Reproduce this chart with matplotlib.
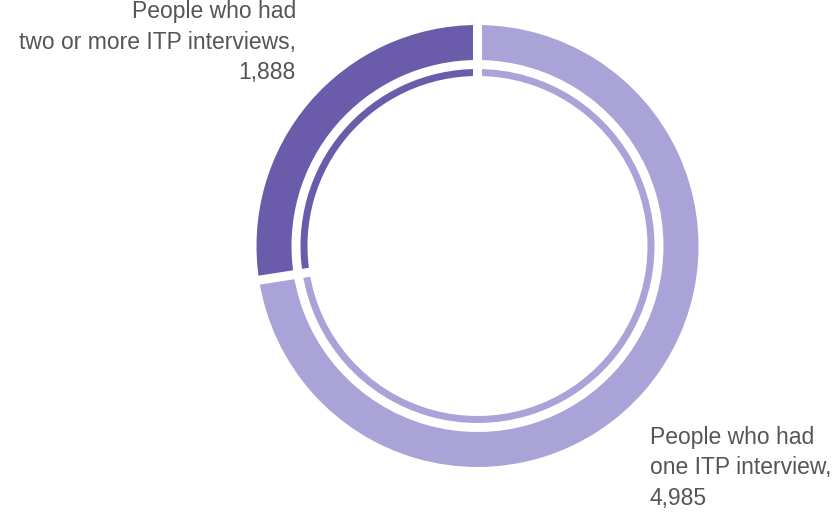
import numpy as np
import matplotlib
matplotlib.use('Agg')
import matplotlib.pyplot as plt

# data
labels = ['People who had\none ITP interview,\n4,985',
          'People who had\ntwo or more ITP interviews,\n1,888']
values = [4985, 1888]
colors = ['#a9a3d7', '#6b5cab']

plt.rcParams['font.family'] = ['Liberation Sans', 'DejaVu Sans']

fig = plt.figure(figsize=(8.37, 5.13), dpi=100)
ax = fig.add_axes([0, 0, 1, 1])

cx, cy = 477.5, 513 - 246
r_outer = 221

# thick outer ring
ax.pie(values, colors=colors, startangle=90, counterclock=False,
       radius=r_outer, center=(cx, cy),
       wedgeprops=dict(width=35, linewidth=0))
# thin inner ring
ax.pie(values, colors=colors, startangle=90, counterclock=False,
       radius=177, center=(cx, cy),
       wedgeprops=dict(width=7, linewidth=0))

# white gaps between segments
bounds = np.concatenate([[0], np.cumsum(values)]) / sum(values)
for b in bounds[:-1]:
    ang = np.deg2rad(90 - 360 * b)
    ax.plot([cx, cx + 240 * np.cos(ang)], [cy, cy + 240 * np.sin(ang)],
            color='white', lw=6.5, solid_capstyle='butt')

ax.set_xlim(0, 837)
ax.set_ylim(0, 513)
ax.set_aspect('equal')
ax.axis('off')

ax.text(296, 513 - 42, labels[1], ha='right', va='center', fontsize=16.5,
        color='#555555', linespacing=1.42)
ax.text(650, 513 - 468, labels[0], ha='left', va='center', fontsize=16.5,
        color='#555555', linespacing=1.42)

fig.savefig('out.png', dpi=100)
